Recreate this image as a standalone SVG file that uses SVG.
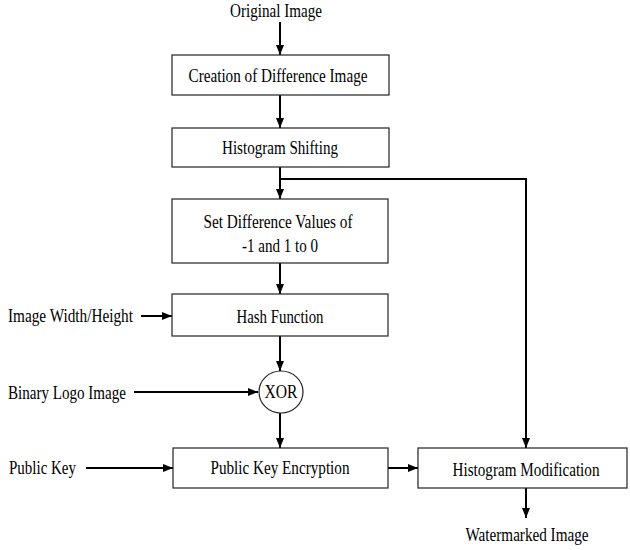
<svg xmlns="http://www.w3.org/2000/svg" width="630" height="550" viewBox="0 0 630 550">
<defs>
<marker id="ah" markerUnits="userSpaceOnUse" markerWidth="10" markerHeight="10" viewBox="0 0 10 10" refX="10" refY="5" orient="auto">
<path d="M0,1 L10,5 L0,9 Z" fill="#000"/>
</marker>
<style>
.box{fill:#fff;stroke:#222;stroke-width:1.2}
.t{font-family:"Liberation Serif","Times New Roman",serif;font-size:19px;fill:#000}
.c{text-anchor:middle}
.e{fill:none;stroke:#000;stroke-width:2}
</style>
</defs>
<rect width="630" height="550" fill="#fff"/>
<g id="connectors">
<line class="e" x1="280" y1="22" x2="280" y2="55" marker-end="url(#ah)"/>
<line class="e" x1="280" y1="95" x2="280" y2="128" marker-end="url(#ah)"/>
<line class="e" x1="280" y1="167" x2="280" y2="199" marker-end="url(#ah)"/>
<polyline class="e" points="280,179 526,179 526,448" marker-end="url(#ah)"/>
<line class="e" x1="280" y1="263" x2="280" y2="294" marker-end="url(#ah)"/>
<line class="e" x1="280" y1="336" x2="280" y2="371" marker-end="url(#ah)"/>
<line class="e" x1="280" y1="413" x2="280" y2="448" marker-end="url(#ah)"/>
<line class="e" x1="141" y1="316" x2="172" y2="316" marker-end="url(#ah)"/>
<line class="e" x1="134" y1="392" x2="258" y2="392" marker-end="url(#ah)"/>
<line class="e" x1="86" y1="468" x2="173" y2="468" marker-end="url(#ah)"/>
<line class="e" x1="388" y1="468" x2="418" y2="468" marker-end="url(#ah)"/>
<line class="e" x1="526" y1="488" x2="526" y2="518" marker-end="url(#ah)"/>
</g>
<g id="original-image"><text class="t c" x="276" y="17" textLength="92" lengthAdjust="spacingAndGlyphs">Original Image</text></g>
<g id="creation"><rect class="box" x="172" y="55" width="217" height="40"/><text class="t c" x="278" y="82" textLength="179" lengthAdjust="spacingAndGlyphs">Creation of Difference Image</text></g>
<g id="shifting"><rect class="box" x="172" y="128" width="217" height="39"/><text class="t c" x="280" y="154" textLength="116" lengthAdjust="spacingAndGlyphs">Histogram Shifting</text></g>
<g id="setdiff"><rect class="box" x="172" y="199" width="216" height="64"/><text class="t c" x="278" y="228" textLength="149" lengthAdjust="spacingAndGlyphs">Set Difference Values of</text><text class="t c" x="280" y="252" textLength="76" lengthAdjust="spacingAndGlyphs">-1 and 1 to 0</text></g>
<g id="hash"><rect class="box" x="172" y="294" width="216" height="42"/><text class="t c" x="280" y="323" textLength="87" lengthAdjust="spacingAndGlyphs">Hash Function</text></g>
<g id="imgwh"><text class="t" x="8" y="322" textLength="125" lengthAdjust="spacingAndGlyphs">Image Width/Height</text></g>
<g id="xor"><ellipse class="box" cx="281" cy="392" rx="22" ry="21"/><text class="t c" x="281" y="398" textLength="33" lengthAdjust="spacingAndGlyphs">XOR</text></g>
<g id="logo"><text class="t" x="8" y="399" textLength="118" lengthAdjust="spacingAndGlyphs">Binary Logo Image</text></g>
<g id="pubkey"><text class="t" x="9" y="474" textLength="67" lengthAdjust="spacingAndGlyphs">Public Key</text></g>
<g id="pke"><rect class="box" x="173" y="448" width="215" height="40"/><text class="t c" x="280" y="474" textLength="139" lengthAdjust="spacingAndGlyphs">Public Key Encryption</text></g>
<g id="hm"><rect class="box" x="418" y="448" width="209" height="40"/><text class="t c" x="526" y="476" textLength="147" lengthAdjust="spacingAndGlyphs">Histogram Modification</text></g>
<g id="watermarked"><text class="t c" x="527" y="541" textLength="123" lengthAdjust="spacingAndGlyphs">Watermarked Image</text></g>
</svg>
